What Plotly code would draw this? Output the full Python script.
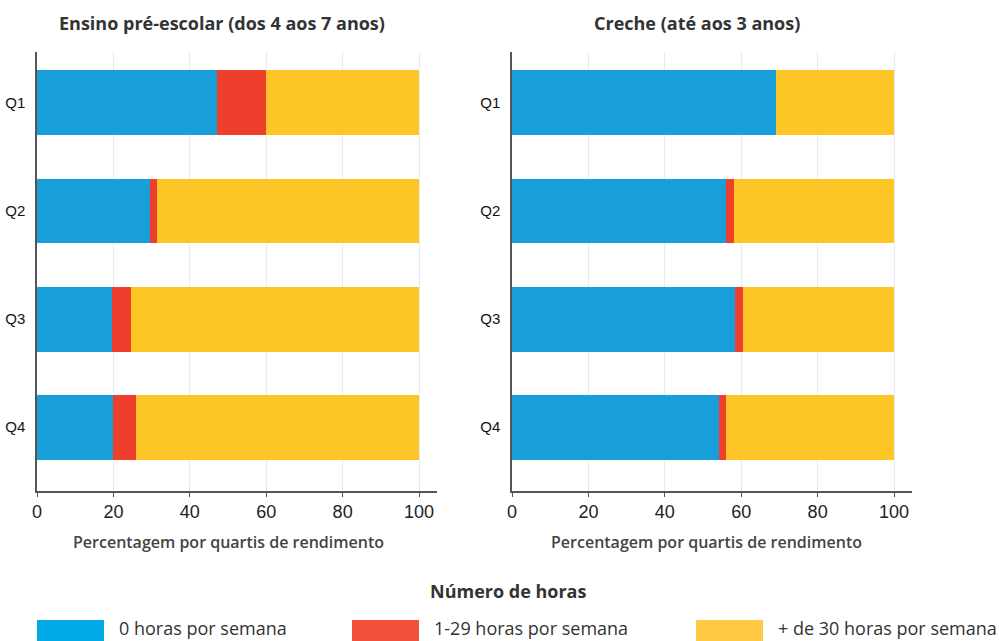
import plotly.graph_objects as go

quartis = ["Q1", "Q2", "Q3", "Q4"]
series_names = ["0 horas por semana", "1-29 horas por semana", "+ de 30 horas por semana"]

# Ensino pré-escolar (dos 4 aos 7 anos)
pre_zero = [47, 29.5, 19.5, 20]
pre_mid = [13, 2, 5, 6]
pre_plus30 = [40, 68.5, 75.5, 74]

# Creche (até aos 3 anos)
cre_zero = [69, 56, 58.4, 54.3]
cre_mid = [0, 2.2, 2.1, 1.8]
cre_plus30 = [31, 41.8, 39.5, 43.9]

x_ticks = [0, 20, 40, 60, 80, 100]
panel_titles = ["Ensino pré-escolar (dos 4 aos 7 anos)", "Creche (até aos 3 anos)"]
axis_title = "Percentagem por quartis de rendimento"
legend_title = "Número de horas"

bar_colors = ["#189FD9", "#EE3F2C", "#FDC526"]
legend_colors = ["#00A9E6", "#F05138", "#FFC845"]

W, H = 999, 641
ML, MR, MT, MB = 37, 0, 52, 150
PW = W - ML - MR
PH = H - MT - MB


def px(x):
    return (x - ML) / PW


def py(y):
    return (H - MB - y) / PH


fig = go.Figure()

panels = [
    ("x", "y", [pre_zero, pre_mid, pre_plus30]),
    ("x2", "y2", [cre_zero, cre_mid, cre_plus30]),
]
for xa, ya, vals in panels:
    for name, v, c in zip(series_names, vals, bar_colors):
        fig.add_trace(go.Bar(
            x=v, y=quartis, orientation="h", name=name,
            marker=dict(color=c, line=dict(width=0)),
            xaxis=xa, yaxis=ya, width=0.6, showlegend=False,
        ))

tickfont = dict(family="Liberation Sans, Arial, sans-serif", size=18, color="#222")
xcommon = dict(
    range=[0, 104.7], tickvals=x_ticks, ticktext=[str(t) for t in x_ticks],
    showgrid=True, gridcolor="#E3ECF0", gridwidth=1,
    showline=True, linecolor="#555", linewidth=1.5,
    ticks="outside", ticklen=4, tickcolor="#555",
    tickfont=tickfont, zeroline=False, fixedrange=True,
)
ycommon = dict(
    range=[3.59, -0.47], showgrid=False,
    showline=True, linecolor="#555", linewidth=1.5,
    ticks="", tickfont=dict(family="Liberation Sans, Arial, sans-serif", size=15, color="#111"),
    zeroline=False, fixedrange=True, ticklabelstandoff=7,
)

fig.update_layout(
    width=W, height=H,
    margin=dict(l=ML, r=MR, t=MT, b=MB),
    paper_bgcolor="white", plot_bgcolor="white",
    barmode="stack",
    xaxis=dict(domain=[px(37), px(437)], anchor="y", **xcommon),
    yaxis=dict(domain=[0, 1], anchor="x", **ycommon),
    xaxis2=dict(domain=[px(512), px(912)], anchor="y2", **xcommon),
    yaxis2=dict(domain=[0, 1], anchor="x2", **ycommon),
    showlegend=False,
)

title_font = dict(family="Open Sans, sans-serif", size=18, color="#333", weight=700)
ann = []
ann.append(dict(text=panel_titles[0], x=px(222), y=py(23), xref="paper", yref="paper",
                showarrow=False, font=title_font, xanchor="center", yanchor="middle"))
ann.append(dict(text=panel_titles[1], x=px(697), y=py(23), xref="paper", yref="paper",
                showarrow=False, font=title_font, xanchor="center", yanchor="middle"))
atf = dict(family="Open Sans, sans-serif", size=16, color="#444", weight=600)
ann.append(dict(text=axis_title, x=px(228), y=py(542), xref="paper", yref="paper",
                showarrow=False, font=atf, xanchor="center", yanchor="middle"))
ann.append(dict(text=axis_title, x=px(706), y=py(542), xref="paper", yref="paper",
                showarrow=False, font=atf, xanchor="center", yanchor="middle"))
ann.append(dict(text=legend_title, x=px(508), y=py(591), xref="paper", yref="paper",
                showarrow=False, font=dict(family="Open Sans, sans-serif", size=18, color="#333", weight=700),
                xanchor="center", yanchor="middle"))

shapes = []
swatch_x = [37, 352, 696]
for sx, name, c in zip(swatch_x, series_names, legend_colors):
    shapes.append(dict(type="rect", xref="paper", yref="paper",
                       x0=px(sx), x1=px(sx + 67), y0=py(641), y1=py(620),
                       fillcolor=c, line=dict(width=0)))
    ann.append(dict(text=name, x=px(sx + 80), y=py(628), xref="paper", yref="paper",
                    showarrow=False, xanchor="left", yanchor="middle",
                    font=dict(family="Open Sans, sans-serif", size=18, color="#333")))

fig.update_layout(annotations=ann, shapes=shapes)
fig.write_html("out.html", config={"displayModeBar": False},
               post_script="document.body.style.margin='0';document.body.style.overflow='hidden';")
